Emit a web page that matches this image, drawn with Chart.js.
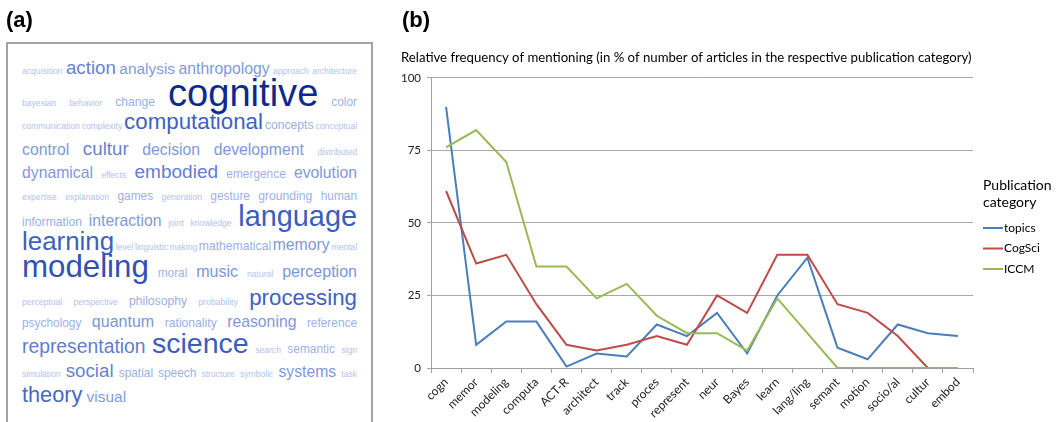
<!DOCTYPE html>
<html>
<head>
<meta charset="utf-8">
<script src="https://cdn.jsdelivr.net/npm/chart.js@4.4.1/dist/chart.umd.min.js"></script>
<style>
  html, body { margin: 0; padding: 0; background: #ffffff; }
  #wrap { position: relative; width: 1058px; height: 422px; overflow: hidden; }
  #chart { position: absolute; left: 0; top: 0; }
  #cloud { position: absolute; left: 0; top: 0; }
  .panel { position: absolute; font-family: "Liberation Sans", Arial, sans-serif; font-weight: bold; font-size: 22px; color: #000; }
</style>
</head>
<body>
<div id="wrap">
  <canvas id="chart" width="1058" height="422"></canvas>
  <svg id="cloud" width="380" height="422" xmlns="http://www.w3.org/2000/svg"></svg>
  <div class="panel" style="left:6px; top:7px;">(a)</div>
  <div class="panel" style="left:402px; top:7px;">(b)</div>
</div>
<script>
// ---- Panel (b): topic mentions per publication category ----
const categories = ['cogn', 'memor', 'modeling', 'computa', 'ACT-R', 'architect', 'track', 'proces',
  'represent', 'neur', 'Bayes', 'learn', 'lang/ling', 'semant', 'motion', 'socio/al', 'cultur', 'embod'];
const topicsValues = [90, 8, 16, 16, 0.5, 5, 4, 15, 11, 19, 5, 25, 38, 7, 3, 15, 12, 11];
const cogSciValues = [61, 36, 39, 22, 8, 6, 8, 11, 8, 25, 19, 39, 39, 22, 19, 11, 0, 0];
const iccmValues   = [76, 82, 71, 35, 35, 24, 29, 18, 12, 12, 6, 24, 12, 0, 0, 0, 0, 0];
const yTicks = [0, 25, 50, 75, 100];

// ---- Panel (a): word cloud terms, weights (0-100) and line grouping ----
const cloudWords = [
  'acquisition', 'action', 'analysis', 'anthropology', 'approach', 'architecture',
  'bayesian', 'behavior', 'change', 'cognitive', 'color',
  'communication', 'complexity', 'computational', 'concepts', 'conceptual',
  'control', 'cultur', 'decision', 'development', 'distributed',
  'dynamical', 'effects', 'embodied', 'emergence', 'evolution',
  'expertise', 'explanation', 'games', 'generation', 'gesture', 'grounding', 'human',
  'information', 'interaction', 'joint', 'knowledge', 'language',
  'learning', 'level', 'linguistic', 'making', 'mathematical', 'memory', 'mental',
  'modeling', 'moral', 'music', 'natural', 'perception',
  'perceptual', 'perspective', 'philosophy', 'probability', 'processing',
  'psychology', 'quantum', 'rationality', 'reasoning', 'reference',
  'representation', 'science', 'search', 'semantic', 'sign',
  'simulation', 'social', 'spatial', 'speech', 'structure', 'symbolic', 'systems', 'task',
  'theory', 'visual'
];
const cloudWeights = [
  1, 35, 24, 25, 1, 1,
  1, 1, 13, 100, 12,
  1, 1, 47, 13, 1,
  25, 35, 25, 25, 1,
  25, 1, 36, 12, 25,
  1, 1, 12, 1, 12, 13, 12,
  13, 25, 1, 1, 69,
  59, 1, 1, 1, 13, 25, 1,
  77, 12, 26, 1, 26,
  1, 1, 13, 1, 47,
  12, 26, 13, 25, 12,
  37, 68, 1, 12, 1,
  1, 35, 12, 12, 1, 1, 25, 1,
  45, 24
];
const cloudLineLengths = [6, 5, 5, 5, 5, 7, 5, 7, 5, 5, 5, 5, 8, 2];

// word-cloud layout
const CLOUD_LEFT = 22, CLOUD_RIGHT = 357;
const cloudBaselines = [74, 106, 129, 155, 178, 200, 226, 250, 277, 305, 327, 353, 377, 402];
const cloudFont = '"Liberation Sans", Arial, Helvetica, sans-serif';
const colorStops = [
  [0, [180, 196, 238]], [13, [154, 176, 230]], [25, [127, 152, 220]], [35, [101, 131, 210]],
  [47, [63, 98, 194]], [70, [59, 93, 190]], [100, [11, 42, 140]]
];
function sizeFor(w) { return 8.3 + w * 0.298; }
function colorFor(w) {
  for (let i = 1; i < colorStops.length; i++) {
    const [w0, c0] = colorStops[i - 1], [w1, c1] = colorStops[i];
    if (w <= w1) {
      const t = (w - w0) / (w1 - w0);
      const c = c0.map((v, k) => Math.round(v + (c1[k] - v) * t));
      return `rgb(${c[0]},${c[1]},${c[2]})`;
    }
  }
  return 'rgb(11,42,140)';
}

(function drawCloud() {
  const svg = document.getElementById('cloud');
  const NS = 'http://www.w3.org/2000/svg';
  const frame = document.createElementNS(NS, 'rect');
  frame.setAttribute('x', 7); frame.setAttribute('y', 43);
  frame.setAttribute('width', 365); frame.setAttribute('height', 420);
  frame.setAttribute('fill', '#ffffff'); frame.setAttribute('stroke', '#a3a3a3');
  frame.setAttribute('stroke-width', 2);
  svg.appendChild(frame);

  const ctx = document.createElement('canvas').getContext('2d');
  let idx = 0;
  cloudLineLengths.forEach((n, row) => {
    const items = [];
    for (let k = 0; k < n; k++, idx++) {
      const w = cloudWeights[idx];
      const size = sizeFor(w);
      ctx.font = `${size}px ${cloudFont}`;
      items.push({ text: cloudWords[idx], w, size, width: ctx.measureText(cloudWords[idx]).width,
                   space: ctx.measureText(' ').width });
    }
    const total = items.reduce((s, it) => s + it.width, 0);
    const last = row === cloudLineLengths.length - 1;
    const gap = last ? Math.min(...items.map(it => it.space)) : (CLOUD_RIGHT - CLOUD_LEFT - total) / (n - 1);
    let x = CLOUD_LEFT;
    items.forEach(it => {
      const t = document.createElementNS(NS, 'text');
      t.setAttribute('x', x.toFixed(2));
      t.setAttribute('y', cloudBaselines[row]);
      t.setAttribute('font-family', cloudFont);
      t.setAttribute('font-size', it.size.toFixed(2));
      t.setAttribute('fill', colorFor(it.w));
      t.textContent = it.text;
      svg.appendChild(t);
      x += it.width + gap;
    });
  });
})();

// Legend with a two-line heading, drawn to the right of the plot area
const sideLegend = {
  id: 'sideLegend',
  afterDraw(chart) {
    const { ctx, chartArea } = chart;
    const x0 = chartArea.right + 10;
    ctx.save();
    ctx.fillStyle = '#000';
    ctx.textBaseline = 'middle';
    ctx.textAlign = 'left';
    ctx.font = '14px Lato, "Open Sans", sans-serif';
    ctx.fillText('Publication', x0, 185);
    ctx.fillText('category', x0, 202);
    ctx.font = '12px Lato, "Open Sans", sans-serif';
    chart.data.datasets.forEach((ds, i) => {
      const y = 228 + i * 20.5;
      ctx.strokeStyle = ds.borderColor;
      ctx.lineWidth = 2;
      ctx.beginPath();
      ctx.moveTo(x0, y);
      ctx.lineTo(x0 + 20, y);
      ctx.stroke();
      ctx.fillText(ds.label, x0 + 21, y);
    });
    ctx.restore();
  }
};

new Chart(document.getElementById('chart'), {
  type: 'line',
  data: {
    labels: categories,
    datasets: [
      { label: 'topics', data: topicsValues, borderColor: '#4a7ebb', order: 3 },
      { label: 'CogSci', data: cogSciValues, borderColor: '#be4b48', order: 2 },
      { label: 'ICCM', data: iccmValues, borderColor: '#98b954', order: 1 }
    ]
  },
  options: {
    responsive: false,
    animation: false,
    devicePixelRatio: 1,
    elements: {
      line: { borderWidth: 2, tension: 0, fill: false },
      point: { radius: 0, hoverRadius: 0 }
    },
    layout: { padding: { left: 401, right: 85, top: 0, bottom: 0 } },
    plugins: {
      legend: { display: false },
      tooltip: { enabled: false },
      title: {
        display: true,
        align: 'start',
        text: 'Relative frequency of mentioning (in % of number of articles in the respective publication category)',
        color: '#000',
        font: { family: 'Lato, "Open Sans", sans-serif', size: 13.2, weight: 'normal', lineHeight: 1.2 },
        padding: { top: 50, bottom: 12 }
      }
    },
    scales: {
      x: {
        offset: true,
        afterFit(s) { s.height = 54; },
        grid: { offset: true, drawOnChartArea: false, drawTicks: true, tickLength: 5, color: '#a0a0a0' },
        border: { color: '#a0a0a0', width: 1 },
        ticks: {
          autoSkip: false, minRotation: 45, maxRotation: 45, padding: 2,
          color: '#222', font: { family: 'Lato, "Open Sans", sans-serif', size: 12 }
        }
      },
      y: {
        min: 0, max: 100,
        afterFit(s) { s.width = 30; },
        afterBuildTicks(s) { s.ticks = yTicks.map(v => ({ value: v })); },
        grid: { color: '#a8a8a8', lineWidth: 1, tickLength: 4 },
        border: { color: '#a0a0a0', width: 1 },
        ticks: { padding: 6, color: '#222', font: { family: 'Lato, "Open Sans", sans-serif', size: 11.5 } }
      }
    }
  },
  plugins: [sideLegend]
});
</script>
</body>
</html>
